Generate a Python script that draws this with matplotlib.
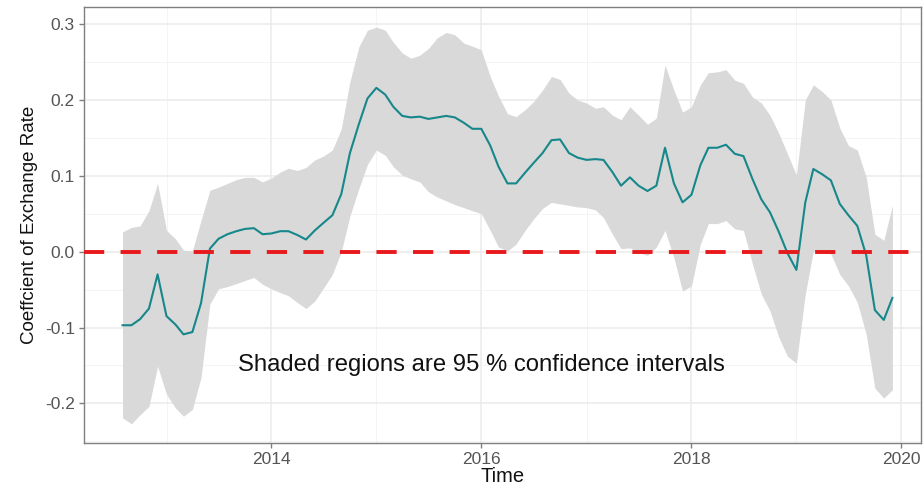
import numpy as np
import pandas as pd
import matplotlib
matplotlib.use("Agg")
import matplotlib.pyplot as plt
import matplotlib.dates as mdates
from matplotlib.ticker import MultipleLocator

plt.rcParams['font.family'] = ['Liberation Sans', 'DejaVu Sans']

# ===========================
# DATA (monthly, Aug 2012 - Dec 2019)
# ===========================
months = pd.date_range("2012-08-01", "2019-12-01", freq="MS")

coef = [-0.097, -0.097, -0.089, -0.075, -0.030, -0.085, -0.096, -0.109, -0.106, -0.068,
        0.004, 0.017, 0.023, 0.027, 0.030, 0.031, 0.023, 0.024, 0.027, 0.027,
        0.022, 0.016, 0.028, 0.038, 0.048, 0.076, 0.130, 0.168, 0.202, 0.216,
        0.207, 0.191, 0.179, 0.177, 0.178, 0.175, 0.177, 0.179, 0.177, 0.170,
        0.162, 0.162, 0.140, 0.112, 0.090, 0.090, 0.104, 0.117, 0.130, 0.147,
        0.148, 0.130, 0.124, 0.121, 0.122, 0.121, 0.105, 0.087, 0.098, 0.087,
        0.080, 0.087, 0.137, 0.090, 0.065, 0.075, 0.114, 0.137, 0.137, 0.141,
        0.129, 0.126, 0.096, 0.069, 0.052, 0.026, -0.002, -0.024, 0.065, 0.109,
        0.102, 0.094, 0.063, 0.048, 0.034, -0.005, -0.077, -0.090, -0.061]

upper = [0.026, 0.032, 0.034, 0.054, 0.090, 0.028, 0.017, 0.002, 0.001, 0.041,
         0.081, 0.085, 0.090, 0.095, 0.098, 0.098, 0.092, 0.097, 0.105, 0.110,
         0.107, 0.111, 0.121, 0.126, 0.134, 0.162, 0.224, 0.270, 0.292, 0.296,
         0.292, 0.276, 0.262, 0.255, 0.259, 0.268, 0.282, 0.289, 0.286, 0.275,
         0.271, 0.266, 0.231, 0.205, 0.182, 0.178, 0.187, 0.198, 0.213, 0.231,
         0.227, 0.209, 0.200, 0.196, 0.189, 0.191, 0.180, 0.174, 0.191, 0.180,
         0.168, 0.176, 0.246, 0.213, 0.184, 0.191, 0.220, 0.236, 0.237, 0.240,
         0.226, 0.222, 0.204, 0.196, 0.180, 0.156, 0.129, 0.101, 0.200, 0.220,
         0.211, 0.200, 0.163, 0.140, 0.134, 0.098, 0.023, 0.015, 0.061]

lower = [-0.219, -0.227, -0.215, -0.204, -0.151, -0.188, -0.206, -0.217, -0.208, -0.166,
         -0.069, -0.049, -0.046, -0.042, -0.038, -0.034, -0.043, -0.049, -0.054, -0.058,
         -0.067, -0.075, -0.065, -0.048, -0.030, 0.000, 0.047, 0.083, 0.115, 0.134,
         0.127, 0.112, 0.101, 0.096, 0.092, 0.079, 0.072, 0.067, 0.062, 0.058,
         0.054, 0.050, 0.028, 0.006, 0.001, 0.010, 0.028, 0.043, 0.057, 0.065,
         0.063, 0.061, 0.059, 0.058, 0.055, 0.045, 0.023, 0.004, 0.005, -0.001,
         -0.005, 0.006, 0.028, -0.008, -0.052, -0.045, 0.010, 0.037, 0.037, 0.041,
         0.030, 0.028, -0.016, -0.056, -0.078, -0.113, -0.138, -0.147, -0.056, 0.001,
         -0.001, -0.003, -0.030, -0.045, -0.067, -0.109, -0.180, -0.193, -0.182]

note_text = "Shaded regions are 95 % confidence intervals"
note_date = pd.Timestamp("2016-01-01")
note_y = -0.15

# ===========================
# PLOT
# ===========================
fig = plt.figure(figsize=(9.23, 4.88), dpi=100)
ax = fig.add_axes([0.091, 0.092, 0.907, 0.894])

ax.fill_between(months, lower, upper, color="#d9d9d9", linewidth=0, zorder=2)
ax.plot(months, coef, color="#16878a", linewidth=1.5, zorder=3)
ax.axhline(0, color="#e8191c", linewidth=2.8, dashes=(5.2, 4.2), zorder=4)

ax.text(note_date, note_y, note_text, ha="center", va="center",
        fontsize=17.2, color="#111111", zorder=5)

ax.set_xlim(pd.Timestamp("2012-03-20"), pd.Timestamp("2020-03-10"))
ax.set_ylim(-0.2524, 0.3228)

ax.xaxis.set_major_locator(mdates.YearLocator(2))
ax.xaxis.set_minor_locator(mdates.YearLocator(1))
ax.xaxis.set_major_formatter(mdates.DateFormatter("%Y"))
ax.yaxis.set_major_locator(MultipleLocator(0.1))
ax.yaxis.set_minor_locator(MultipleLocator(0.05))
ax.yaxis.set_major_formatter(plt.FuncFormatter(lambda v, p: f"{v:.1f}"))

ax.grid(which="major", color="#ebebeb", linewidth=1.1, zorder=0)
ax.grid(which="minor", color="#f2f2f2", linewidth=0.6, zorder=0)
ax.set_axisbelow(True)

for s in ax.spines.values():
    s.set_color("#7f7f7f")
    s.set_linewidth(1.0)

ax.tick_params(which="major", length=3.5, width=1.0, color="#7f7f7f",
               labelsize=12.5, labelcolor="#555555", pad=3)
ax.tick_params(which="minor", length=0)

ax.set_xlabel("Time", fontsize=14.5, labelpad=0, color="#111111")
ax.set_ylabel("Coeffcient of Exchange Rate", fontsize=13.5, labelpad=5, color="#111111")

fig.savefig("out.png", dpi=100)
